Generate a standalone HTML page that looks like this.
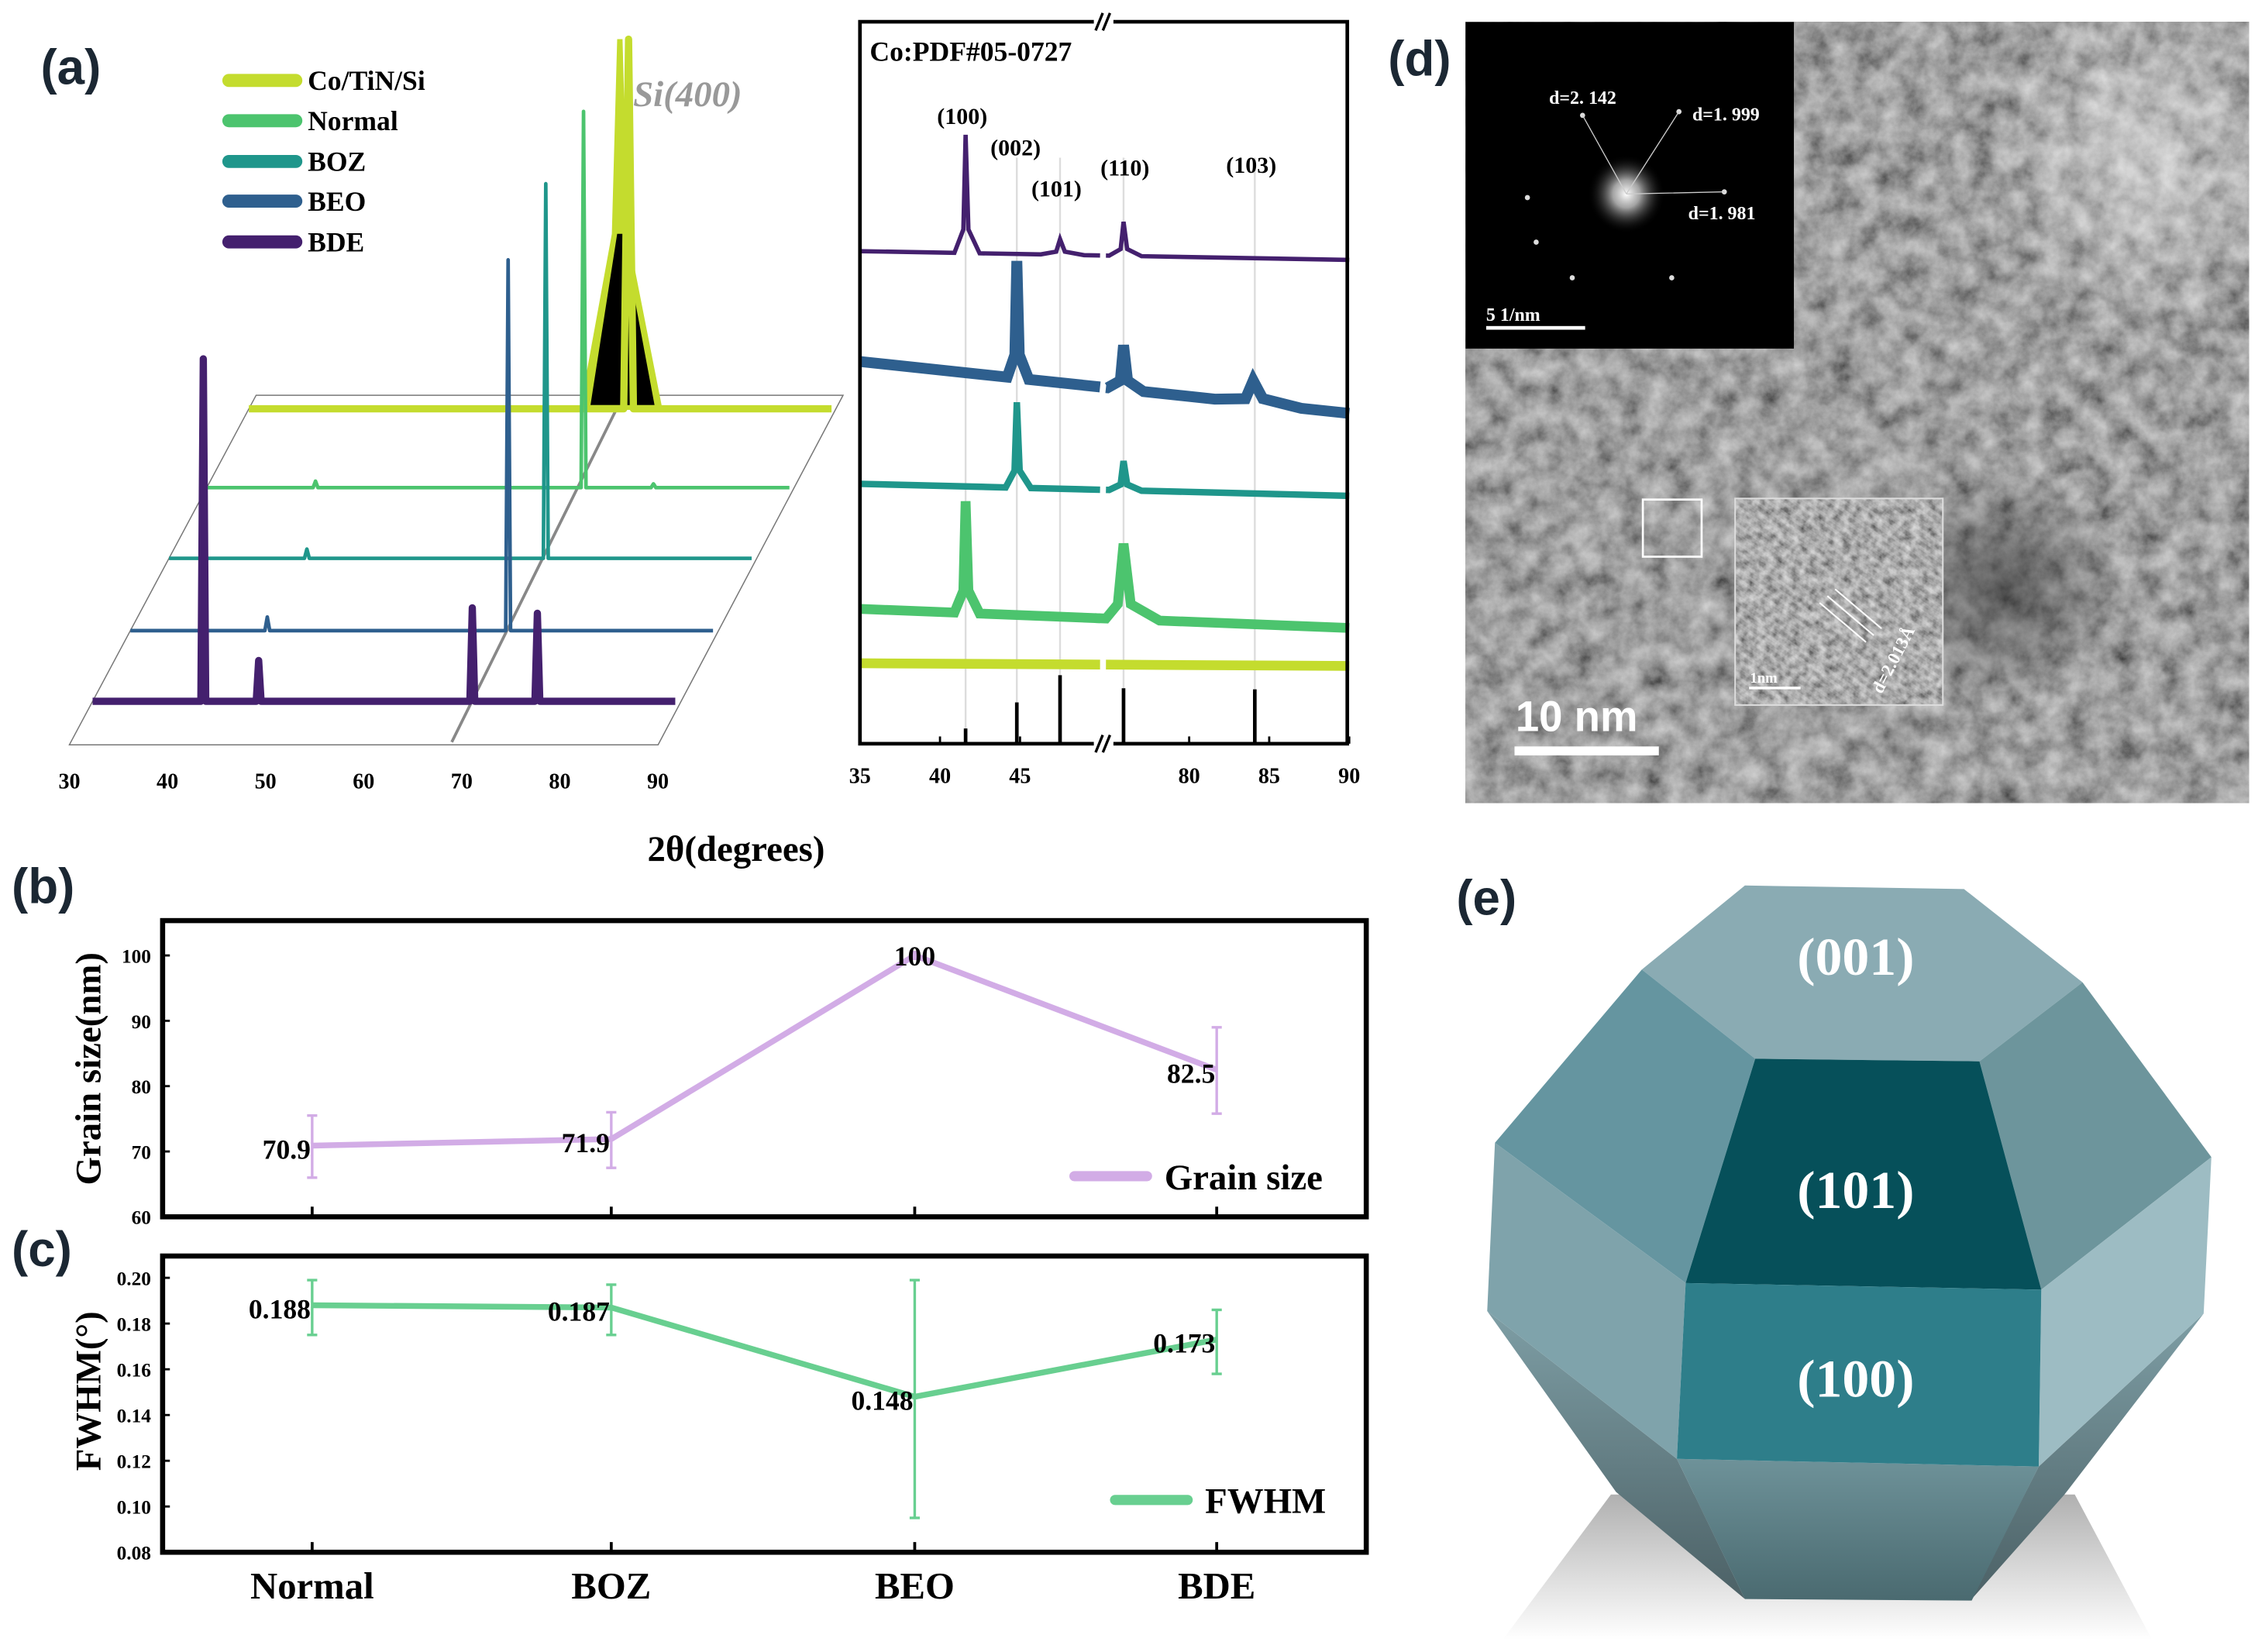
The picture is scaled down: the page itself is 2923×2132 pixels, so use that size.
<!DOCTYPE html>
<html><head><meta charset="utf-8"><style>
html,body{margin:0;padding:0;background:#fff;}
svg{display:block;}
text{font-family:"Liberation Serif",serif;font-weight:bold;}
.sans{font-family:"Liberation Sans",sans-serif;}
</style></head><body>
<svg id="fig" width="2923" height="2132" viewBox="0 0 1560 1137.7" preserveAspectRatio="none" xmlns="http://www.w3.org/2000/svg">
<defs>
<filter id="temNoise" x="0" y="0" width="100%" height="100%" filterUnits="objectBoundingBox">
<feTurbulence type="fractalNoise" baseFrequency="0.022" numOctaves="5" seed="5"/>
<feColorMatrix type="matrix" values="0.65 0 0 0 0.02  0.65 0 0 0 0.02  0.65 0 0 0 0.02  0 0 0 0 1"/>
</filter>
<filter id="hrNoise" x="0" y="0" width="100%" height="100%" filterUnits="objectBoundingBox">
<feTurbulence type="fractalNoise" baseFrequency="0.06" numOctaves="3" seed="9"/>
<feColorMatrix type="matrix" values="0.75 0 0 0 0.0  0.75 0 0 0 0.0  0.75 0 0 0 0.0  0 0 0 0 1"/>
</filter>
<radialGradient id="glow"><stop offset="0" stop-color="#fff"/><stop offset="0.35" stop-color="#ccc" stop-opacity="0.8"/><stop offset="1" stop-color="#000" stop-opacity="0"/></radialGradient>
<radialGradient id="bright"><stop offset="0" stop-color="#fff" stop-opacity="0.45"/><stop offset="1" stop-color="#fff" stop-opacity="0"/></radialGradient>
<radialGradient id="dark"><stop offset="0" stop-color="#000" stop-opacity="0.45"/><stop offset="1" stop-color="#000" stop-opacity="0"/></radialGradient>
<pattern id="lattice" width="14" height="14" patternUnits="userSpaceOnUse" patternTransform="rotate(35)"><rect width="14" height="6" fill="#fff" fill-opacity="0.15"/></pattern>
<linearGradient id="shadowG" x1="0" y1="0" x2="0" y2="1"><stop offset="0" stop-color="#b0b0b0"/><stop offset="1" stop-color="#fff"/></linearGradient>
<linearGradient id="lowG" x1="0" y1="0" x2="0" y2="1"><stop offset="0" stop-color="#7e9ea5"/><stop offset="1" stop-color="#4c6166"/></linearGradient>
<linearGradient id="botG" x1="0" y1="0" x2="0" y2="1"><stop offset="0" stop-color="#6e9299"/><stop offset="1" stop-color="#4a6a70"/></linearGradient>
</defs>
</svg>
<script>
// ===== data arrays =====
const categories = ["Normal","BOZ","BEO","BDE"];
const grainValues = [70.9, 71.9, 100, 82.5];
const grainLabels = ["70.9","71.9","100","82.5"];
const grainErrLow = [66.0, 67.5, 99.5, 75.8];
const grainErrHigh = [75.5, 76.0, 100.5, 89.0];
const grainTicks = [60, 70, 80, 90, 100];
const fwhmValues = [0.188, 0.187, 0.148, 0.173];
const fwhmLabels = ["0.188","0.187","0.148","0.173"];
const fwhmErrLow = [0.175, 0.175, 0.095, 0.158];
const fwhmErrHigh = [0.199, 0.197, 0.199, 0.186];
const fwhmTicks = [0.08, 0.10, 0.12, 0.14, 0.16, 0.18, 0.20];
const xrdNames = ["BDE","BEO","BOZ","Normal","Co/TiN/Si"];
const xrdColors = ["#44206e","#2e5f8e","#1f968b","#4cc46e","#c4dc2e"];
const xrdBaseLeft = [462, 665, 890, 1120, 1220];
const xrdBaseRight = [478, 760, 912, 1155, 1225];
const xrdPeakPos = [[41.6,47.5,75.9],[44.8,75.9,84.0],[44.8,75.9],[41.6,75.9],[]];
const xrdPeakTop = [[248,440,408],[480,635,700],[740,848],[922,1000],[]];
const xrdPeakHW = [[0.35,0.6,0.45],[0.3,0.5,1.2],[0.35,0.45],[0.35,0.9],[]];
const xrdBand = [8,20,12,18,18];
const refPos = [41.6, 44.8, 47.5, 75.9, 84.1];
const refTop = [1340, 1292, 1242, 1266, 1268];
const refLabels = ["(100)","(002)","(101)","(110)","(103)"];
const xTicksRight = [35,40,45,80,85,90];
const stackBase = [1290, 1160, 1027, 897, 752];
const stackPeakPos = [[41.4,47.1,69.1,75.8],[44.1,68.9],[44.2,68.8],[41.2,68.8,76.0],[69.1]];
const stackPeakTop = [[660,1215,1118,1128],[1135,478],[1010,338],[885,205,890],[72]];
const xTicksLeft = [30,40,50,60,70,80,90];

const svg = document.getElementById('fig');
const NS = "http://www.w3.org/2000/svg";
function mk(tag, attrs, parent){const e=document.createElementNS(NS,tag);for(const k in attrs)e.setAttribute(k,attrs[k]);(parent||svg).appendChild(e);return e;}
function tx(str, attrs, parent){const e=mk('text',attrs,parent);e.textContent=str;return e;}

// ===== panel (a) =====
const ga = mk('g',{});


const AX=0.6125, AY=0.3744;
function ax(x){return x*AX;} function ay(y){return y*AY;}
let fl = mk('polygon',{points:[[288,727],[948,727],[740,1370],[78,1370]].map(p=>ax(p[0])+','+ay(p[1])).join(' '),fill:'none',stroke:'#777','stroke-width':0.8},ga);


let sil = mk('line',{x1:ax(508),y1:ay(1365),x2:ax(700),y2:ay(730),stroke:'#888','stroke-width':2},ga);


function stackX(i,deg){const left=78+210*((1370-stackBase[i])/643);return left+(deg-30)*10.92;}
const stackOrder=[4,3,2,1,0];
stackOrder.forEach(i=>{
  const pts=[];const b=stackBase[i];
  pts.push([stackX(i,30),b]);
  const pk=stackPeakPos[i].map((p,j)=>[p,stackPeakTop[i][j]]).sort((a,c)=>a[0]-c[0]);
  pk.forEach(([p,t])=>{const w=(i===4)?0.5:0.25;pts.push([stackX(i,p-w),b]);pts.push([stackX(i,p),t]);pts.push([stackX(i,p+w),b]);});
  pts.push([stackX(i,90),b]);
  if(i===4){
    const br=mk('polygon',{points:[[652,754],[688,430],[694,72],[700,72],[706,430],[745,754]].map(p=>ax(p[0])+','+ay(p[1])).join(' '),fill:xrdColors[4]},ga);
    
    
    const bk=mk('polygon',{points:[[664,745],[694,430],[700,430],[736,745]].map(p=>ax(p[0])+','+ay(p[1])).join(' '),fill:'#000'},ga);
    
    
  }
  const pl=mk('polyline',{points:pts.map(p=>ax(p[0])+','+ay(p[1])).join(' '),fill:'none',stroke:xrdColors[i],'stroke-width':i===0?5:(i===4?5:2.5),'stroke-linejoin':'round'},ga);
  
  
});
xTicksLeft.forEach(v=>{
  const t=tx(String(v),{x:ax(78+(v-30)*11.03),y:ay(1450),'font-size':15,'text-anchor':'middle'},ga);
  
  
});
const legOrder=[4,3,2,1,0]; const legY=[148,222,297,370,445];
legOrder.forEach((i,k)=>{
  const r=mk('rect',{x:ax(250),y:ay(legY[k])-4.5,width:ax(340)-ax(250),height:9,rx:4.5,fill:xrdColors[i]},ga);
  
  
  const t=tx(xrdNames[i],{x:ax(346),y:ay(legY[k])+6.5,'font-size':19},ga);
  
  
});
let si=tx('Si(400)',{x:ax(712),y:ay(195),'font-size':25,'font-style':'italic',fill:'#999'},ga);


let la=tx('(a)',{x:28,y:58,'font-size':34,class:'sans',fill:'#1b2733'},ga);


let xt=tx('2θ(degrees)',{x:507,y:593,'font-size':25,'text-anchor':'middle'},ga);



function rx(deg){return deg<=50.3?967+(deg-35)*18:1240+(deg-74.6)*18;}
const segs=[[35,50.0],[74.8,90]];
refPos.forEach((p,i)=>{
  const gl=mk('line',{x1:ax(rx(p)),y1:ay(i===0?250:290),x2:ax(rx(p)),y2:ay(1368),stroke:'#ddd','stroke-width':1.3},ga);
  
  
});
xrdNames.forEach((n,i)=>{
  function baseAt(deg){const x=rx(deg);return xrdBaseLeft[i]+(xrdBaseRight[i]-xrdBaseLeft[i])*(x-967)/(1515-967);}
  segs.forEach((s,si2)=>{
    const pts=[[s[0],baseAt(s[0])]];
    xrdPeakPos[i].forEach((p,j)=>{
      if(p<s[0]||p>s[1])return;
      const w=xrdPeakHW[i][j];
      pts.push([p-w*2,baseAt(p-w*2)]);pts.push([p-w*0.4,(xrdPeakTop[i][j]+baseAt(p))/2+ (baseAt(p)-xrdPeakTop[i][j])*0.3]);
      pts.push([p,xrdPeakTop[i][j]]);
      pts.push([p+w*0.5,(xrdPeakTop[i][j]+baseAt(p))/2+(baseAt(p)-xrdPeakTop[i][j])*0.3]);pts.push([p+w*2.5,baseAt(p+w*2.5)]);
    });
    pts.push([s[1],baseAt(s[1])]);
    pts.sort((a,b)=>a[0]-b[0]);
    const pl=mk('polyline',{points:pts.map(p=>ax(rx(p[0]))+','+ay(p[1])).join(' '),fill:'none',stroke:xrdColors[i],'stroke-width':Math.max(2.5,xrdBand[i]*AY),'stroke-linejoin':'miter'},ga);
    
    
  });
});
refPos.forEach((p,i)=>{
  const st=mk('line',{x1:ax(rx(p)),y1:ay(refTop[i]),x2:ax(rx(p)),y2:ay(1368),stroke:'#000','stroke-width':2.5},ga);
  
  
});
const lblXY=[[1082,228],[1142,286],[1188,361],[1265,323],[1407,318]];
refLabels.forEach((l,i)=>{
  const t=tx(l,{x:ax(lblXY[i][0]),y:ay(lblXY[i][1]),'font-size':16,'text-anchor':'middle'},ga);
  
  
});
let fr=mk('rect',{x:ax(967),y:ay(40),width:ax(1515)-ax(967),height:ay(1368)-ay(40),fill:'none',stroke:'#000','stroke-width':2.5},ga);


[40,1368].forEach((yy,k)=>{
  const w=mk('rect',{x:ax(1230),y:ay(yy)-3,width:ax(1252)-ax(1230),height:6,fill:'#fff'},ga);
  
  
  [0,5].forEach(o=>{const b=mk('line',{x1:ax(1232)+o,y1:ay(yy)+6,x2:ax(1240)+o,y2:ay(yy)-6,stroke:'#000','stroke-width':1.8},ga);
  
  });
});
xTicksRight.forEach(v=>{
  const t=tx(String(v),{x:ax(rx(v)),y:ay(1440),'font-size':15,'text-anchor':'middle'},ga);
  
  
  const tk=mk('line',{x1:ax(rx(v)),y1:ay(1368),x2:ax(rx(v)),y2:ay(1368)-5,stroke:'#000','stroke-width':1.5},ga);
  
  
});
let pdf=tx('Co:PDF#05-0727',{x:ax(978),y:ay(112),'font-size':19},ga);



// ===== panels (b) and (c) =====
const catX=[215,421,630,838];
function gy(v){return 838-(v-60)*4.5;}
function fy(v){return 1069-(v-0.08)*1575;}
function linePanel(name,top,bot,ticks,yfn,fmt,vals,lo,hi,labels,color,legendTxt,legX,legY,title,titleY){
  const g=mk('g',{});
  
  
  const r=mk('rect',{x:112,y:top,width:829,height:bot-top,fill:'none',stroke:'#000','stroke-width':3.5},g);
  
  
  ticks.forEach(v=>{
    const t=tx(fmt(v),{x:104,y:yfn(v)+5,'font-size':13.5,'text-anchor':'end'},g);
    
    
    const m=mk('line',{x1:112,y1:yfn(v),x2:117,y2:yfn(v),stroke:'#000','stroke-width':1.5},g);
    
    
  });
  catX.forEach((x,i)=>{
    const m=mk('line',{x1:x,y1:bot,x2:x,y2:bot-7,stroke:'#000','stroke-width':2},g);
    
    
  });
  const ln=mk('polyline',{points:vals.map((v,i)=>catX[i]+','+yfn(v)).join(' '),fill:'none',stroke:color,'stroke-width':4,'stroke-linejoin':'round'},g);
  
  
  vals.forEach((v,i)=>{
    const e=mk('path',{d:`M${catX[i]},${yfn(lo[i])}V${yfn(hi[i])}M${catX[i]-3.5},${yfn(lo[i])}h7M${catX[i]-3.5},${yfn(hi[i])}h7`,stroke:color,'stroke-width':1.8,fill:'none'},g);
    
    
  });
  labels.forEach((l,i)=>{
    let x=catX[i]-1, y=yfn(vals[i])+9, anchor='end';
    if(name==='grain'&&i===2){x=catX[i];anchor='middle';y=yfn(vals[i])+7;}
    const t=tx(l,{x:x,y:y,'font-size':19,'text-anchor':anchor},g);
    
    
  });
  const ll=mk('line',{x1:legX,y1:legY,x2:legX+50,y2:legY,stroke:color,'stroke-width':7,'stroke-linecap':'round'},g);
  
  
  const lt=tx(legendTxt,{x:legX+62,y:legY+9,'font-size':25},g);
  
  
  const at=tx(title,{x:0,y:0,'font-size':25,'text-anchor':'middle',transform:`translate(69,${titleY}) rotate(-90)`},g);
  
  
}
linePanel('grain',634,838,grainTicks,gy,v=>String(v),grainValues,grainErrLow,grainErrHigh,grainLabels,'#d2ace6','Grain size',740,810,'Grain size(nm)',736);
linePanel('fwhm',865,1069,fwhmTicks,fy,v=>v.toFixed(2),fwhmValues,fwhmErrLow,fwhmErrHigh,fwhmLabels,'#68cf90','FWHM',768,1033,'FWHM(°)',958);
categories.forEach((c,i)=>{
  const t=tx(c,{x:catX[i],y:1101,'font-size':26,'text-anchor':'middle'});
  
  
});
let lb=tx('(b)',{x:8,y:622,'font-size':34,class:'sans',fill:'#1b2733'});


let lc=tx('(c)',{x:8,y:872,'font-size':34,class:'sans',fill:'#1b2733'});



// ===== panel (d) TEM =====
const gd=mk('g',{transform:'translate(1003,0) scale(0.355,0.361)'});


let bgT=mk('rect',{x:18,y:42,width:1520,height:1490,fill:'#777',filter:'url(#temNoise)'},gd);


let b1=mk('ellipse',{cx:1330,cy:300,rx:300,ry:330,fill:'url(#bright)'},gd);


let d1=mk('ellipse',{cx:1060,cy:1120,rx:240,ry:220,fill:'url(#dark)'},gd);


let ff=mk('rect',{x:18,y:42,width:637,height:623,fill:'#000'},gd);


let fg=mk('circle',{cx:330,cy:370,r:75,fill:'url(#glow)'},gd);


[[245,220],[432,213],[520,366],[138,377],[225,530],[418,530],[155,462]].forEach((p,i)=>{
  const c=mk('circle',{cx:p[0],cy:p[1],r:5,fill:'#ddd'},gd);
  
  
});
let fl2=mk('path',{d:'M330,370L245,220M330,370L432,213M330,370L520,366',stroke:'#ccc','stroke-width':2,fill:'none'},gd);


[['d=2. 142',180,198],['d=1. 999',458,230],['d=1. 981',450,418]].forEach((d,i)=>{
  const t=tx(d[0],{x:d[1],y:d[2],'font-size':36,fill:'#fff','font-weight':'normal'},gd);
  
  
});
let fs=tx('5 1/nm',{x:58,y:612,'font-size':36,fill:'#fff'},gd);


let fsb=mk('rect',{x:58,y:622,width:192,height:7,fill:'#fff'},gd);


let sb=mk('rect',{x:362,y:953,width:114,height:109,fill:'none',stroke:'#fff','stroke-width':4},gd);


let hr=mk('rect',{x:541,y:951,width:403,height:394,fill:'#777',filter:'url(#hrNoise)'},gd);


let hrl=mk('rect',{x:541,y:951,width:403,height:394,fill:'url(#lattice)',stroke:'#ddd','stroke-width':3},gd);


let hrm=mk('path',{d:'M705,1150L795,1225M720,1137L810,1212M735,1124L825,1199',stroke:'#fff','stroke-width':3},gd);


let hd=tx('d=2.013Å',{x:0,y:0,'font-size':34,fill:'#fff',transform:'translate(825,1325) rotate(-62)'},gd);


let hs=tx('1nm',{x:570,y:1302,'font-size':28,fill:'#fff'},gd);


let hsb=mk('rect',{x:568,y:1310,width:100,height:5,fill:'#fff'},gd);


let ts=tx('10 nm',{x:115,y:1395,'font-size':82,fill:'#fff',class:'sans'},gd);


let tsb=mk('rect',{x:113,y:1424,width:280,height:17,fill:'#fff'},gd);


let ld=tx('(d)',{x:956,y:52,'font-size':34,class:'sans',fill:'#1b2733'});



// ===== panel (e) crystal =====
const ge=mk('g',{transform:'translate(1003,587) scale(0.355,0.351)'});


const faces=[
 ['shadow',[[300,1260],[1200,1260],[1350,1545],[90,1545]],'url(#shadowG)'],
 ['face-lower-left-bottom',[[60,900],[428,1190],[560,1465],[310,1255]],'url(#lowG)'],
 ['face-lower-right-bottom',[[1450,905],[1130,1205],[1000,1465],[1180,1260]],'url(#lowG)'],
 ['face-bottom',[[428,1190],[1130,1205],[1000,1468],[560,1465]],'url(#botG)'],
 ['face-top-001',[[360,230],[560,65],[985,72],[1215,255],[1015,410],[580,405]],'#8aabb3'],
 ['face-upper-left',[[360,230],[580,405],[445,845],[75,570]],'#6595a0'],
 ['face-upper-right',[[1215,255],[1465,598],[1135,858],[1015,410]],'#6d959c'],
 ['face-left',[[75,570],[445,845],[428,1190],[60,900]],'#7fa3ab'],
 ['face-right',[[1465,598],[1450,905],[1130,1205],[1135,858]],'#9dbcc3'],
 ['face-101',[[580,405],[1015,410],[1135,858],[445,845]],'#06505a'],
 ['face-100',[[445,845],[1135,858],[1130,1205],[428,1190]],'#2e7e8a']
];
faces.forEach(f=>{
  const p=mk('polygon',{points:f[1].map(q=>q.join(',')).join(' '),fill:f[2]},ge);
  
  
});
[['(001)',240],['(101)',698],['(100)',1068]].forEach(l=>{
  const t=tx(l[0],{x:775,y:l[1],'font-size':105,fill:'#fff','text-anchor':'middle'},ge);
  
  
});
let le=tx('(e)',{x:1003,y:630,'font-size':34,class:'sans',fill:'#1b2733'});


</script>
</body></html>
